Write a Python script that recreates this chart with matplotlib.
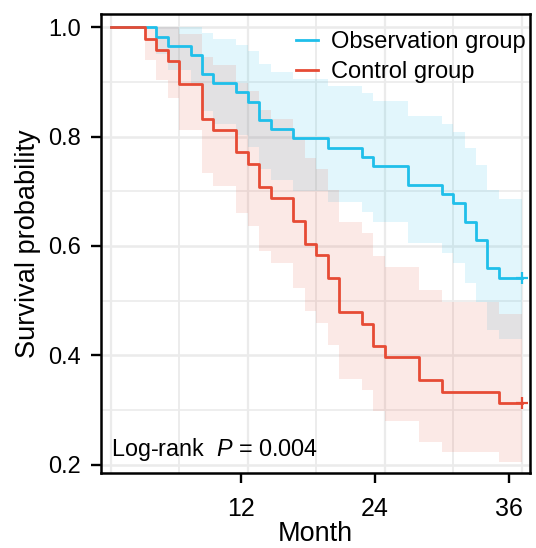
import matplotlib
matplotlib.use("Agg")
import matplotlib.pyplot as plt
import numpy as np

plt.rcParams['font.family'] = ['Liberation Sans', 'DejaVu Sans']
plt.rcParams['mathtext.fontset'] = 'custom'
plt.rcParams['mathtext.rm'] = 'Liberation Sans'
plt.rcParams['mathtext.it'] = 'Liberation Sans:italic'

# Kaplan-Meier steps (month of each event, survival after it)
obs_months = [4, 5, 7, 8, 9, 11, 12, 13, 14, 16, 19, 22, 23, 26, 29, 30, 31, 32, 33, 34]
obs_surv = [0.983, 0.966, 0.949, 0.915, 0.898, 0.881, 0.864, 0.831, 0.814, 0.797,
            0.780, 0.763, 0.746, 0.712, 0.695, 0.678, 0.644, 0.610, 0.559, 0.542]
obs_lower = [0.951, 0.921, 0.895, 0.847, 0.824, 0.803, 0.781, 0.740, 0.720, 0.700,
             0.681, 0.662, 0.643, 0.605, 0.587, 0.569, 0.533, 0.498, 0.446, 0.429]
obs_upper = [1.0, 1.0, 1.0, 0.989, 0.979, 0.968, 0.956, 0.932, 0.919, 0.906,
             0.893, 0.879, 0.866, 0.837, 0.823, 0.808, 0.779, 0.748, 0.702, 0.686]

ctl_months = [3, 4, 5, 6, 8, 9, 11, 12, 13, 14, 16, 17, 18, 19, 20, 22, 23, 24, 27, 29, 34]
ctl_surv = [0.979, 0.958, 0.938, 0.896, 0.833, 0.813, 0.771, 0.750, 0.708, 0.688, 0.646,
            0.604, 0.583, 0.542, 0.479, 0.458, 0.417, 0.396, 0.354, 0.333, 0.313]
ctl_lower = [0.940, 0.903, 0.871, 0.813, 0.734, 0.709, 0.661, 0.637, 0.591, 0.568, 0.524,
             0.481, 0.459, 0.418, 0.357, 0.337, 0.298, 0.279, 0.242, 0.223, 0.205]
ctl_upper = [1.0, 1.0, 1.0, 0.987, 0.946, 0.931, 0.899, 0.883, 0.849, 0.832, 0.796,
             0.760, 0.741, 0.703, 0.644, 0.623, 0.582, 0.561, 0.519, 0.497, 0.475]

end_month = 36
labels = ["Observation group", "Control group"]
colors = ["#1FBFEA", "#E64B35"]

# tick marks sit slightly left of the data grid in the original
x_tick_pos = [11.4, 23.15, 34.9]
x_tick_lab = ["12", "24", "36"]
y_ticks = [0.2, 0.4, 0.6, 0.8, 1.0]


def stepData(months, surv, lower, upper):
    t = np.array([0] + list(months) + [end_month], dtype=float)
    s = np.array([1.0] + list(surv) + [surv[-1]])
    lo = np.array([1.0] + list(lower) + [lower[-1]])
    hi = np.array([1.0] + list(upper) + [upper[-1]])
    return t, s, lo, hi


fig = plt.figure(figsize=(5.36, 5.48), dpi=100)
ax = fig.add_axes([100.5 / 536, 1 - 473 / 548, 429.5 / 536, 459 / 548])

# background grid
for m in range(0, 37, 6):
    ax.axvline(m, color="#EBEBEB", lw=1.6 if m % 12 == 0 else 1.3, zorder=0)
for v in np.arange(0.2, 1.01, 0.1):
    major = abs(round(v * 10) % 2) == 0
    ax.axhline(v, color="#EBEBEB", lw=1.8 if major else 1.2, zorder=0)

groups = [(obs_months, obs_surv, obs_lower, obs_upper),
          (ctl_months, ctl_surv, ctl_lower, ctl_upper)]
alphas = [0.13, 0.12]
for (mo, su, lo, hi), col, a in zip(groups, colors, alphas):
    t, s, l, h = stepData(mo, su, lo, hi)
    ax.fill_between(t, l, h, step="post", color=col, alpha=a, lw=0, zorder=1)

for (mo, su, lo, hi), col, lab in zip(groups, colors, labels):
    t, s, l, h = stepData(mo, su, lo, hi)
    ax.step(t, s, where="post", color=col, lw=2.0, label=lab, zorder=3)
    ax.plot([end_month], [su[-1]], marker="+", color=col, ms=9, mew=1.6, zorder=4)

ax.set_xlim(-0.893, 36.73)
ax.set_ylim(0.1847, 1.0243)
ax.set_xticks(x_tick_pos)
ax.set_xticklabels(x_tick_lab)
ax.set_yticks(y_ticks)
ax.set_yticklabels(["%.1f" % v for v in y_ticks])
ax.tick_params(axis="x", labelsize=18, length=7, width=1.7, pad=10)
ax.tick_params(axis="y", labelsize=17, length=7, width=1.7, pad=7)
for sp in ax.spines.values():
    sp.set_linewidth(1.8)
    sp.set_color("black")

ax.set_xlabel("Month", fontsize=19.5, labelpad=0.5)
ax.set_ylabel("Survival probability", fontsize=19.5, labelpad=5)

ax.legend(loc="upper left", bbox_to_anchor=(0.455, 0.962), frameon=False,
          fontsize=17, handlelength=0.95, handletextpad=0.55,
          labelspacing=0.33, borderpad=0, borderaxespad=0)

ax.text(0, 0.216, "Log-rank  $P$ = 0.004", fontsize=16.8, ha="left", va="baseline")

fig.savefig("out.png", dpi=100)
